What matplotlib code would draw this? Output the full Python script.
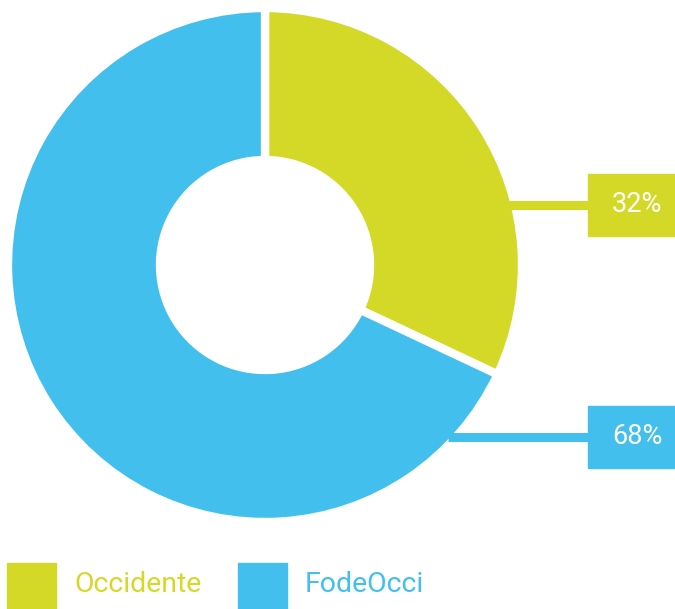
import matplotlib
matplotlib.use("Agg")
import matplotlib.pyplot as plt
from matplotlib.patches import Rectangle

# data
labels = ["Occidente", "FodeOcci"]
values = [32, 68]
pct_text = ["32%", "68%"]
colors = ["#D4D928", "#43BFEE"]

plt.rcParams["font.family"] = ["Roboto", "DejaVu Sans"]

W, H = 675, 609
fig = plt.figure(figsize=(W / 100, H / 100), dpi=100)
ax = fig.add_axes([0, 0, 1, 1])

# donut, drawn in pixel-like data units (y up)
cx, cy = 265, H - 265
R = 257
ax.pie(values, colors=colors, startangle=90, counterclock=False,
       center=(cx, cy), radius=R,
       wedgeprops=dict(width=152, edgecolor="white", linewidth=6),
       frame=True)

# label boxes with leader lines (start at the ring's visible edge)
box_y = [H - 205, H - 437]
for i in range(2):
    y = box_y[i]
    x0 = cx + ((R - 4) ** 2 - (y - cy) ** 2) ** 0.5 - 3
    ax.plot([x0, 600], [y, y], color=colors[i], lw=6.5, zorder=2,
            solid_capstyle="butt")
    ax.add_patch(Rectangle((588, y - 31), 100, 62, color=colors[i], zorder=3))
    ax.text(637, y, pct_text[i], color="white", fontsize=19.5,
            ha="center", va="center", zorder=4)

# legend
leg_x = [7, 238]
for i in range(2):
    ax.add_patch(Rectangle((leg_x[i], 0), 49, H - 563, color=colors[i]))
    ax.text(leg_x[i] + 67, H - 585, labels[i], color=colors[i], fontsize=20.5,
            ha="left", va="center")

ax.set_xlim(0, W)
ax.set_ylim(0, H)
ax.set_aspect("auto")
ax.axis("off")

fig.savefig("out.png", dpi=100)
